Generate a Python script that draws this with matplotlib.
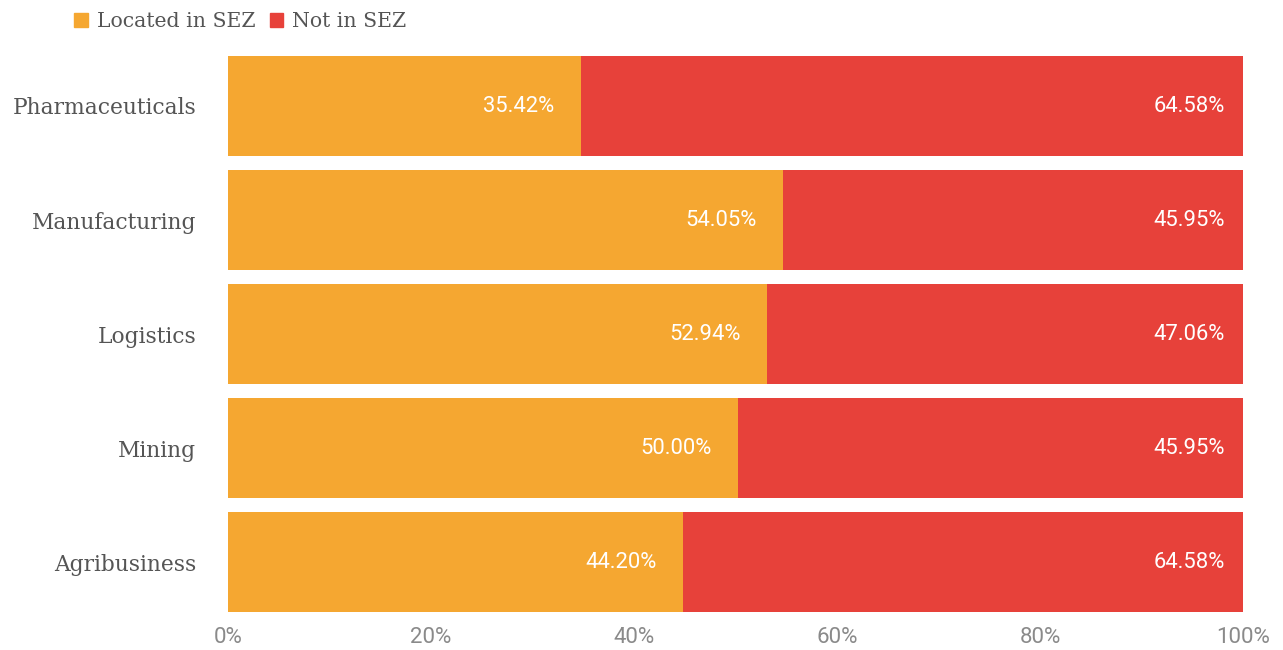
import matplotlib
matplotlib.use('Agg')
import matplotlib.pyplot as plt
from matplotlib.patches import Patch
import numpy as np

# data (top to bottom)
categories = ['Pharmaceuticals', 'Manufacturing', 'Logistics', 'Mining', 'Agribusiness']
located_share = [34.75, 54.68, 53.07, 50.2, 44.83]
located_labels = ['35.42%', '54.05%', '52.94%', '50.00%', '44.20%']
not_in_labels = ['64.58%', '45.95%', '47.06%', '45.95%', '64.58%']
series_names = ['Located in SEZ', 'Not in SEZ']

orange = '#F5A731'
red = '#E7413A'
slab = 'DejaVu Serif'
sans = 'Roboto'

fig = plt.figure(figsize=(12.83, 6.5), dpi=100)
ax = fig.add_axes([228 / 1283, 31 / 650, 1015 / 1283, 570 / 650])

y = np.arange(len(categories))[::-1]
located = np.array(located_share)
rest = 100 - located

ax.barh(y, located, height=0.885, color=orange, linewidth=0)
ax.barh(y, rest, left=located, height=0.885, color=red, linewidth=0)

for yi, v, lab_a, lab_b in zip(y, located, located_labels, not_in_labels):
    ax.annotate(lab_a, (v, yi), xytext=(-26, 0), textcoords='offset pixels',
                ha='right', va='center', color='white', fontsize=15.8, family=sans)
    ax.annotate(lab_b, (100, yi), xytext=(-18, 0), textcoords='offset pixels',
                ha='right', va='center', color='white', fontsize=15.8, family=sans)

ax.set_xlim(0, 100)
ax.set_ylim(-0.5, len(categories) - 0.5)
ax.set_xticks(np.arange(0, 101, 20))
ax.set_xticklabels([f'{t}%' for t in range(0, 101, 20)], family=sans, fontsize=16, color='#8a8a8a')
ax.set_yticks(y)
ax.set_yticklabels(categories, family=slab, fontsize=15.7, color='#555555')
ax.tick_params(axis='x', length=0, pad=6)
ax.tick_params(axis='y', length=0, pad=23)
for s in ax.spines.values():
    s.set_visible(False)

handles = [Patch(color=orange), Patch(color=red)]
leg = fig.legend(handles, series_names, loc='upper left', bbox_to_anchor=(56 / 1283, 1 + 6 / 650),
                 ncol=2, frameon=False, handlelength=0.65, handleheight=0.65,
                 handletextpad=0.45, columnspacing=0.7,
                 prop={'family': slab, 'size': 14.7})
for t in leg.get_texts():
    t.set_color('#555555')

fig.savefig('out.png', dpi=100)
